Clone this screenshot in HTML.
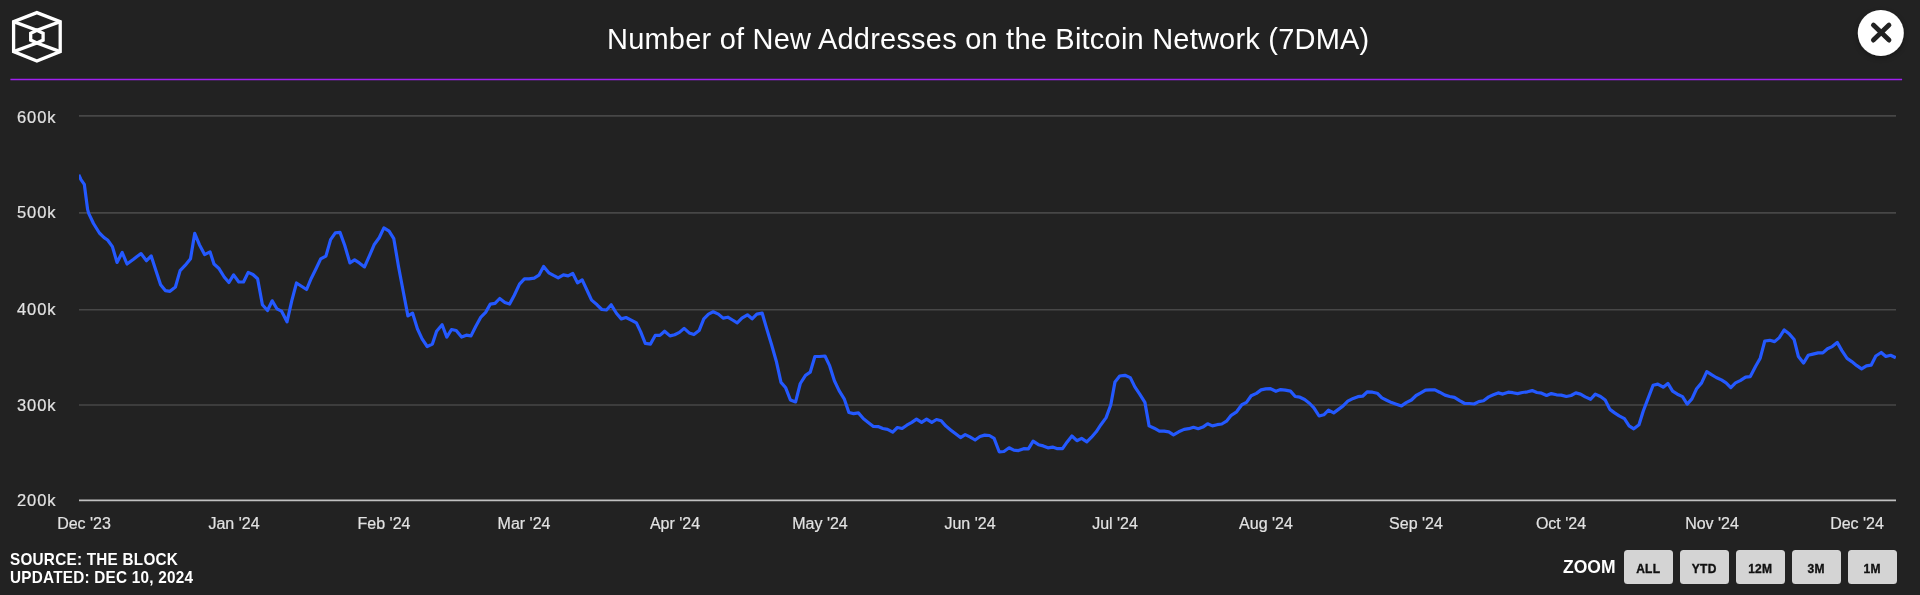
<!DOCTYPE html>
<html><head><meta charset="utf-8"><style>
html,body{margin:0;padding:0;}
body{width:1920px;height:595px;background:#222222;position:relative;overflow:hidden;font-family:"Liberation Sans",sans-serif;color:#e8e8e8;}
.abs{position:absolute;white-space:nowrap;will-change:transform;}
#title{left:606.9px;top:19.0px;font-size:29px;line-height:40px;color:#ffffff;letter-spacing:0.215px;}
.yl{font-size:16.5px;line-height:20px;color:#e2e2e2;letter-spacing:0.9px;-webkit-text-stroke:0.2px #e2e2e2;}
.xl{font-size:16px;line-height:20px;color:#e2e2e2;transform:translateX(-50%);-webkit-text-stroke:0.2px #e2e2e2;}
#src{left:10px;top:550.2px;font-size:15.3px;line-height:17.2px;letter-spacing:0.24px;transform:scaleY(1.05);transform-origin:0 0;font-weight:bold;color:#ffffff;}
#zoom{left:1562.8px;top:557.3px;font-size:17.5px;line-height:20px;font-weight:bold;color:#ffffff;}
.btn{position:absolute;top:550.3px;width:48.5px;height:33.5px;background:#d4d4d4;border-radius:3.5px;font-size:12px;font-weight:bold;color:#111;text-align:center;line-height:38.4px;will-change:transform;letter-spacing:0.3px;-webkit-text-stroke:0.35px #111;}
</style></head><body>
<svg class="abs" style="left:0;top:0" width="1920" height="595" viewBox="0 0 1920 595">
  <g fill="none" stroke="#ffffff" stroke-width="3.3" stroke-linejoin="miter">
    <polygon points="36.9,12.6 60.2,21.6 60.2,51.6 36.9,61 13.6,51.6 13.6,21.6"/>
    <polygon points="36.9,30.2 43.1,33.3 43.1,40.1 36.9,43.0 30.7,40.1 30.7,33.3"/>
    <line x1="13.6" y1="21.6" x2="36.9" y2="30.2"/>
    <line x1="60.2" y1="21.6" x2="36.9" y2="30.2"/>
    <line x1="13.6" y1="51.6" x2="36.9" y2="43.0"/>
    <line x1="60.2" y1="51.6" x2="36.9" y2="43.0"/>
  </g>
  <defs><filter id="sh" x="-30%" y="-30%" width="160%" height="160%"><feDropShadow dx="0" dy="2" stdDeviation="2.5" flood-color="#000" flood-opacity="0.35"/></filter></defs>
  <circle cx="1880.8" cy="33.1" r="23" fill="#ffffff" filter="url(#sh)"/>
  <g stroke="#222222" stroke-width="4.8" stroke-linecap="round">
    <line x1="1873.4" y1="25.1" x2="1889.0" y2="40.1"/>
    <line x1="1889.0" y1="25.1" x2="1873.4" y2="40.1"/>
  </g>
  <line x1="10.4" y1="79.5" x2="1902.1" y2="79.5" stroke="#a020f0" stroke-width="1.6"/>
  <g stroke="#474747" stroke-width="1.7">
    <line x1="79" y1="115.8" x2="1896" y2="115.8"/>
    <line x1="79" y1="212.8" x2="1896" y2="212.8"/>
    <line x1="79" y1="309.75" x2="1896" y2="309.75"/>
    <line x1="79" y1="405" x2="1896" y2="405"/>
  </g>
  <line x1="79" y1="500.4" x2="1896" y2="500.4" stroke="#c0c0c0" stroke-width="1.7"/>
  <clipPath id="pc"><rect x="79" y="90" width="1817" height="420"/></clipPath>
  <polyline clip-path="url(#pc)" fill="none" stroke="#2459ff" stroke-width="3.2" stroke-linejoin="round" stroke-linecap="butt" points="78.7,174.8 80.8,179.3 84.3,184.3 87.6,209.4 88.8,213.6 93.5,223.5 99.4,233.0 104.1,237.6 107.6,240.0 112.4,246.6 117.0,262.4 122.2,252.5 127.0,264.0 133.5,259.3 137.0,256.5 141.0,253.6 146.5,260.7 151.2,256.0 155.9,270.6 160.6,284.7 165.3,290.6 170.0,291.3 175.4,287.0 180.1,270.6 185.3,265.2 190.5,258.8 194.7,233.4 199.4,244.7 204.6,254.6 210.0,251.8 214.0,264.0 218.7,268.2 224.2,277.0 228.9,282.5 233.6,274.9 238.8,282.0 243.5,282.0 248.2,272.4 252.9,274.5 257.6,278.7 262.4,304.8 267.5,310.5 272.2,300.8 276.9,308.8 281.6,311.2 287.0,321.8 291.8,300.6 296.5,283.0 301.9,286.5 306.6,289.5 311.3,278.2 316.0,268.8 320.7,258.9 325.9,256.1 330.6,239.6 335.3,232.8 340.0,232.4 344.7,245.3 349.9,262.9 354.6,259.9 359.3,262.9 364.5,266.9 369.4,255.9 374.1,244.8 379.2,237.8 383.9,227.9 389.1,231.2 393.8,238.7 398.5,266.5 403.2,291.2 407.9,315.9 412.6,313.1 417.4,328.8 422.1,338.9 427.2,346.5 432.4,344.1 436.6,331.2 442.1,324.8 446.8,337.1 451.5,329.5 456.2,330.5 461.6,337.1 466.3,335.2 471.0,335.9 475.7,326.5 480.9,317.1 485.6,312.4 490.3,304.1 495.0,303.4 499.7,298.5 504.9,302.5 509.6,304.1 514.3,295.2 519.5,284.1 524.4,278.9 529.1,278.9 534.2,278.2 538.9,275.2 543.6,266.5 548.8,272.8 553.5,275.4 558.2,277.8 563.4,274.9 568.1,275.9 572.8,273.5 577.5,282.9 582.2,279.9 586.9,290.0 591.6,300.1 597.1,304.8 601.8,309.5 606.5,310.0 611.2,304.8 616.6,313.5 621.3,318.9 626.0,317.5 631.2,320.1 636.4,322.9 640.6,331.6 645.3,343.4 650.5,344.1 655.2,335.4 659.9,335.4 664.6,331.2 670.0,335.9 674.7,334.7 679.4,332.4 684.1,328.4 689.2,332.9 693.9,334.6 699.1,330.6 703.8,318.8 708.5,314.1 713.2,311.8 718.4,314.1 723.1,318.1 727.8,317.2 732.5,320.0 737.2,322.8 741.9,318.1 747.4,314.8 752.1,318.8 756.8,314.1 762.2,313.2 766.9,329.4 771.6,344.7 776.3,361.2 781.0,382.4 785.7,387.8 790.4,400.0 795.6,401.9 800.3,383.5 805.5,375.3 810.2,372.2 814.9,356.5 819.6,356.5 825.0,356.0 829.7,365.9 834.4,380.7 839.1,390.6 844.2,398.8 848.9,412.5 853.6,413.6 858.4,412.9 863.5,418.8 868.2,422.4 873.4,426.4 878.1,426.6 882.8,428.5 887.5,429.4 892.7,432.2 897.4,427.5 902.1,428.5 906.8,425.2 911.8,422.4 916.5,419.1 921.6,422.4 926.6,419.1 931.8,422.4 936.5,419.5 941.2,420.7 945.9,426.1 950.6,429.9 955.3,433.6 960.5,437.6 965.2,434.6 969.9,436.9 975.1,440.0 980.0,436.5 984.7,435.1 989.4,435.5 994.1,438.4 999.2,451.8 1003.9,451.5 1009.1,447.8 1013.8,450.1 1018.5,450.6 1023.7,448.7 1028.4,448.9 1033.1,441.2 1038.5,444.7 1043.2,445.9 1047.9,447.8 1052.6,447.1 1057.4,448.7 1062.5,448.7 1067.2,441.9 1071.9,436.0 1076.9,440.7 1081.6,438.4 1086.8,441.9 1091.5,437.2 1096.2,431.8 1100.9,424.7 1106.1,417.6 1110.8,404.7 1115.0,381.9 1119.7,376.0 1124.9,375.3 1130.3,377.6 1135.0,387.1 1139.7,394.1 1144.9,402.4 1149.1,425.9 1154.2,428.2 1159.4,431.1 1164.1,431.1 1168.8,431.8 1173.5,434.8 1178.7,431.8 1184.1,429.4 1188.8,428.7 1193.5,427.3 1198.2,428.7 1202.9,427.1 1207.6,423.8 1212.4,425.9 1217.1,424.7 1221.8,424.0 1226.5,421.2 1231.2,415.3 1236.6,411.8 1241.8,404.7 1246.5,402.4 1251.2,395.8 1256.4,393.4 1261.1,389.9 1265.8,388.9 1270.5,388.7 1275.9,391.3 1280.6,389.6 1285.3,390.1 1290.5,391.1 1295.2,396.5 1299.9,397.2 1304.6,399.5 1309.7,403.5 1313.9,407.8 1319.1,416.0 1323.8,414.8 1328.5,410.1 1333.7,412.9 1338.4,409.4 1343.1,405.9 1347.8,401.2 1353.2,398.4 1357.9,396.7 1362.6,396.2 1367.4,391.8 1372.5,392.2 1377.2,393.2 1381.9,397.9 1386.6,400.2 1391.6,402.6 1396.3,404.2 1401.5,405.9 1406.2,402.6 1411.4,400.0 1416.1,395.5 1420.8,392.9 1425.5,390.1 1430.2,389.9 1434.9,389.9 1439.6,392.2 1445.0,395.1 1449.7,396.5 1454.4,397.4 1459.6,400.7 1464.7,403.5 1469.4,403.5 1474.1,404.0 1478.8,401.6 1483.5,400.7 1488.7,396.9 1493.4,394.8 1498.1,392.9 1502.8,394.1 1508.2,392.2 1512.9,392.7 1517.6,393.6 1522.4,392.5 1527.5,391.8 1532.2,390.6 1536.9,392.5 1541.6,393.2 1546.6,395.5 1551.3,393.6 1556.5,394.8 1561.2,395.1 1566.4,396.5 1571.1,395.5 1575.8,392.9 1580.5,394.1 1585.2,396.9 1590.6,399.3 1595.3,394.1 1600.5,396.5 1605.2,400.0 1609.9,409.4 1614.6,412.9 1619.2,415.9 1624.4,418.7 1629.1,425.8 1633.8,428.8 1639.0,424.8 1643.2,411.2 1647.9,398.9 1653.1,385.3 1657.8,384.1 1663.2,387.2 1667.9,383.4 1672.6,391.2 1677.4,394.2 1682.5,396.6 1687.2,404.1 1691.9,398.9 1696.6,388.8 1701.6,382.9 1706.8,371.6 1711.5,374.7 1716.2,377.5 1721.4,379.9 1726.1,382.9 1730.8,387.6 1735.5,382.9 1740.2,380.6 1745.6,377.1 1750.3,376.6 1755.5,366.5 1760.2,358.2 1764.8,341.0 1769.8,340.3 1774.6,341.6 1779.3,337.6 1784.2,329.9 1789.4,334.1 1794.1,339.5 1798.4,356.5 1803.5,363.1 1808.2,355.3 1812.9,354.1 1818.1,352.9 1822.8,352.9 1827.5,348.7 1832.2,346.6 1837.2,342.4 1841.9,350.6 1847.1,358.4 1851.8,361.6 1856.5,365.4 1861.6,368.9 1866.4,365.9 1871.1,365.2 1875.8,356.0 1881.2,352.5 1885.9,356.5 1890.6,355.3 1895.8,357.7"/>
</svg>
<div id="title" class="abs">Number of New Addresses on the Bitcoin Network (7DMA)</div>
<div class="abs yl" style="left:17.4px;top:106.8px">600k</div>
<div class="abs yl" style="left:17.4px;top:202.2px">500k</div>
<div class="abs yl" style="left:17.4px;top:298.9px">400k</div>
<div class="abs yl" style="left:17.4px;top:394.6px">300k</div>
<div class="abs yl" style="left:17.4px;top:490.1px">200k</div>
<div class="abs xl" style="left:83.5px;top:513.5px">Dec &#39;23</div>
<div class="abs xl" style="left:233.7px;top:513.5px">Jan &#39;24</div>
<div class="abs xl" style="left:383.9px;top:513.5px">Feb &#39;24</div>
<div class="abs xl" style="left:524.2px;top:513.5px">Mar &#39;24</div>
<div class="abs xl" style="left:674.6px;top:513.5px">Apr &#39;24</div>
<div class="abs xl" style="left:820.1px;top:513.5px">May &#39;24</div>
<div class="abs xl" style="left:970.3px;top:513.5px">Jun &#39;24</div>
<div class="abs xl" style="left:1115.3px;top:513.5px">Jul &#39;24</div>
<div class="abs xl" style="left:1265.8px;top:513.5px">Aug &#39;24</div>
<div class="abs xl" style="left:1416px;top:513.5px">Sep &#39;24</div>
<div class="abs xl" style="left:1561.4px;top:513.5px">Oct &#39;24</div>
<div class="abs xl" style="left:1711.8px;top:513.5px">Nov &#39;24</div>
<div class="abs xl" style="left:1857px;top:513.5px">Dec &#39;24</div>
<div id="src" class="abs">SOURCE: THE BLOCK<br>UPDATED: DEC 10, 2024</div>
<div id="zoom" class="abs">ZOOM</div>
<div class="btn" style="left:1624.2px">ALL</div>
<div class="btn" style="left:1680.1px">YTD</div>
<div class="btn" style="left:1736px">12M</div>
<div class="btn" style="left:1792.1px">3M</div>
<div class="btn" style="left:1848.1px">1M</div>
</body></html>
